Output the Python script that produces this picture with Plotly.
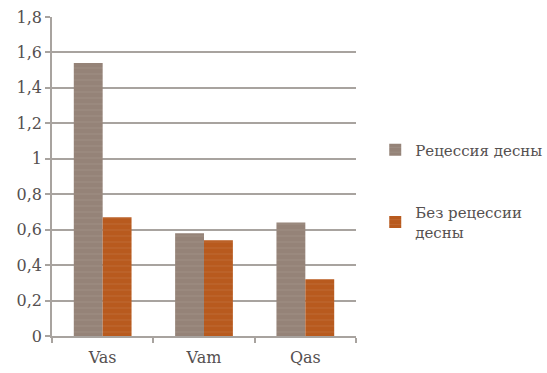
import plotly.graph_objects as go

categories = ["Vas", "Vam", "Qas"]
recession = [1.54, 0.58, 0.64]
no_recession = [0.67, 0.54, 0.32]
series_names = ["Рецессия десны", "Без рецессии<br>десны"]

GRAY = "#958378"
ORANGE = "#B85A1E"
TEXT = "#555050"
FONT = "DejaVu Serif"

fig = go.Figure()
for name, vals, color, grp in [
    (series_names[0], recession, GRAY, "a"),
    (series_names[1], no_recession, ORANGE, "b"),
]:
    fig.add_trace(go.Bar(
        x=categories, y=vals, name=name, legendgroup=grp,
        marker=dict(
            color=color, line=dict(width=0),
            pattern=dict(shape="-", fgcolor="#ffffff", fgopacity=0.1,
                         size=6, solidity=0.15),
        ),
    ))

fig.update_layout(
    width=547, height=373,
    margin=dict(l=52, r=191, t=17, b=37, autoexpand=False),
    paper_bgcolor="white", plot_bgcolor="white",
    barmode="group", bargap=0.43, bargroupgap=0,
    separators=", ",
    font=dict(family=FONT, size=16, color=TEXT),
    showlegend=True,
    legend=dict(
        xref="container", yref="container",
        x=0.686, y=0.642, xanchor="left", yanchor="top",
        font=dict(family=FONT, size=15, color=TEXT),
        tracegroupgap=40, itemwidth=30,
        bgcolor="rgba(0,0,0,0)",
    ),
)
fig.update_yaxes(
    range=[0, 1.8], dtick=0.2, tick0=0, automargin=False,
    showgrid=True, gridcolor="#a8a39f", gridwidth=1.6,
    showline=True, linecolor="#a8a39f", linewidth=1.6,
    ticks="outside", ticklen=5, tickcolor="#a8a39f", tickwidth=1.6,
    zeroline=False, tickfont=dict(family=FONT, size=16, color=TEXT),
)
fig.update_xaxes(
    automargin=False, showgrid=False,
    showline=True, linecolor="#a8a39f", linewidth=1.6,
    ticks="outside", tickson="boundaries", ticklen=5,
    tickcolor="#a8a39f", tickwidth=1.6, ticklabelstandoff=6,
    tickfont=dict(family=FONT, size=16, color=TEXT),
)

fig.write_html("out.html")
